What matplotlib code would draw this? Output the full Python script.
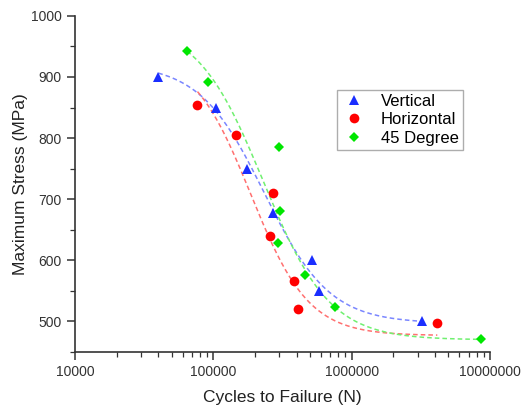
import numpy as np
import matplotlib.pyplot as plt
from matplotlib.ticker import FixedLocator, NullFormatter, MultipleLocator

plt.rcParams['font.family'] = ['Liberation Sans', 'DejaVu Sans']

# Дані: цикли до руйнування та максимальне напруження
vert_n = [40000, 105000, 174000, 272000, 520000, 583000, 3200000]
vert_s = [900, 850, 750, 677, 600, 550, 500]

hor_n = [76800, 146000, 272000, 255000, 384000, 407000, 4160000]
hor_s = [854, 805, 710, 640, 567, 521, 497]

deg_n = [64600, 91400, 297000, 302000, 295000, 458000, 762000, 8550000]
deg_s = [943, 892, 786, 681, 628, 576, 524, 471]

# Параметри кривих Больцмана (A1, A2, log10 x0, dx), як на графіку
vert_fit = [922, 497, 5.37, 0.235]
hor_fit = [940, 477, 5.27, 0.21]
deg_fit = [990, 470, 5.36, 0.24]


def boltzmann(n, p):
    a1, a2, x0, dx = p
    xs = np.linspace(np.log10(min(n)), np.log10(max(n)), 300)
    ys = a2 + (a1 - a2) / (1.0 + np.exp((xs - x0) / dx))
    return 10 ** xs, ys


fig = plt.figure(figsize=(5.22, 4.07), dpi=100)
ax = fig.add_axes([0.1437, 0.135, 0.795, 0.826])

series = [
    (vert_n, vert_s, vert_fit, '#1a2eff', '#7a86ff', '^', 7.5, 'Vertical'),
    (hor_n, hor_s, hor_fit, '#ff0000', '#ff7070', 'o', 7, 'Horizontal'),
    (deg_n, deg_s, deg_fit, '#00e600', '#70f070', 'D', 5.5, '45 Degree'),
]
for n, s, p, c, lc, m, ms, lab in series:
    fx, fy = boltzmann(n, p)
    ax.plot(fx, fy, linestyle=(0, (3, 2)), color=lc, lw=1.1, zorder=2)
    ax.plot(n, s, linestyle='none', marker=m, ms=ms, color=c,
            markeredgewidth=0, label=lab, zorder=3)

ax.set_xscale('log')
ax.set_xlim(1e4, 1e7)
ax.set_ylim(450, 1000)
ax.xaxis.set_major_locator(FixedLocator([1e4, 1e5, 1e6, 1e7]))
ax.set_xticklabels(['10000', '100000', '1000000', '10000000'])
ax.xaxis.set_minor_formatter(NullFormatter())
ax.yaxis.set_major_locator(MultipleLocator(100))
ax.yaxis.set_minor_locator(MultipleLocator(50))

for side in ['top', 'right']:
    ax.spines[side].set_visible(False)
for side in ['left', 'bottom']:
    ax.spines[side].set_color('#333333')
    ax.spines[side].set_linewidth(1.2)
ax.tick_params(which='major', length=6, width=1.1, color='#333333',
               labelsize=10, labelcolor='#333333')
ax.tick_params(which='minor', length=3.5, width=0.9, color='#333333')

ax.set_xlabel('Cycles to Failure (N)', fontsize=12.5, labelpad=8,
              color='#222222')
ax.set_ylabel('Maximum Stress (MPa)', fontsize=12.5, labelpad=2,
              color='#222222')

leg = ax.legend(loc='upper left', bbox_to_anchor=(0.631, 0.78), fontsize=12,
                frameon=True, fancybox=False, edgecolor='#999999',
                handletextpad=0.8, borderpad=0.25, labelspacing=0.2,
                handlelength=1.6, borderaxespad=0)
leg.get_frame().set_linewidth(1.0)

fig.savefig('out.png', dpi=100)
